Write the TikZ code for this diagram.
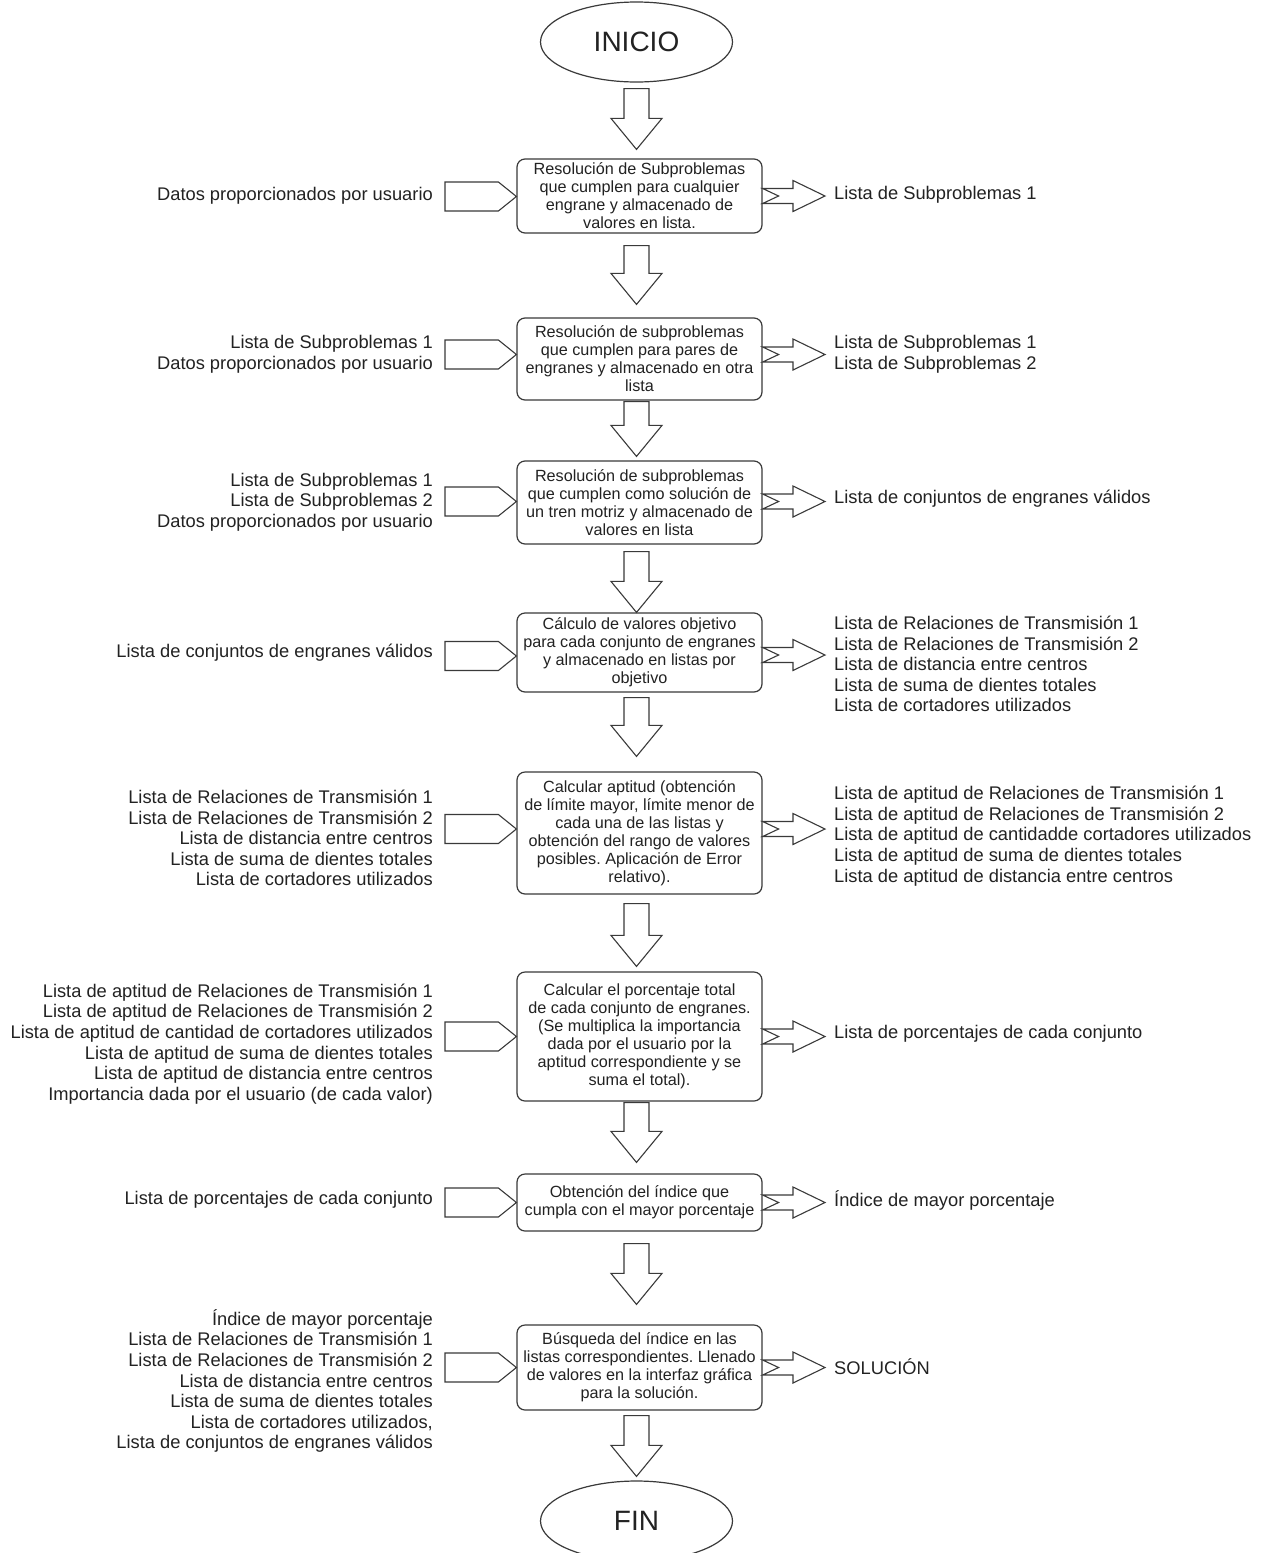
\documentclass[tikz,border=0pt]{standalone}
\usepackage{fontspec}
\setmainfont{Liberation Sans}
\usetikzlibrary{calc,shapes.geometric}
\definecolor{ink}{HTML}{222222}
\definecolor{edge}{HTML}{3a3a3a}
\frenchspacing

% left input arrow: pentagon from the text block (#2) to the west side of box #3
\newcommand\feedin[3][0]{%
  \draw[blk] let \p1=($(#3.west)+(0,#1)$), \p2=(#2.east) in
    (\x1,\y1) -- (\x1-18,\y1+14.5) -- (\x2+12,\y1+14.5) -- (\x2+12,\y1-14.5)
    -- (\x1-18,\y1-14.5) -- cycle;}
% right output arrow: notched block arrow from box #2 to the text block #3
\newcommand\feedout[3][0]{%
  \draw[blk] let \p1=($(#2.east)+(0,#1)$), \p2=(#3.west) in
    (\x1,\y1+7.5) -- (\x2-41,\y1+7.5) -- (\x2-41,\y1+15.5) -- (\x2-9,\y1)
    -- (\x2-41,\y1-15.5) -- (\x2-41,\y1-7.5) -- (\x1,\y1-7.5) -- (\x1+16,\y1) -- cycle;}
% downward block arrow from #2 to #3, gaps #4 (below source) and #5 (above target)
\newcommand\drop[5][-3]{%
  \draw[blk] let \p1=($(#2.south)+(#1,#4)$), \p2=($(#3.north)+(0,-#5)$) in
    (\x1-12.5,\y1) -- (\x1+12.5,\y1) -- (\x1+12.5,\y2+31) -- (\x1+25.5,\y2+31)
    -- (\x1,\y2) -- (\x1-25.5,\y2+31) -- (\x1-12.5,\y2+31) -- cycle;}

\begin{document}
\begin{tikzpicture}[x=1pt,y=-1pt,
  every node/.style={text=ink},
  procbox/.style={draw=edge, line width=1.2pt, rounded corners=8pt,
    minimum width=245pt, align=center, inner sep=2pt,
    font=\fontsize{16.2}{18}\selectfont},
  terminal/.style={draw=edge, line width=1.2pt, ellipse, minimum width=192pt,
    minimum height=80pt, inner sep=0pt, font=\fontsize{28}{30}\selectfont},
  intxt/.style={align=right, inner sep=0pt, anchor=east,
    font=\fontsize{18.3}{20.6}\selectfont},
  outtxt/.style={align=left, inner sep=0pt, anchor=west,
    font=\fontsize{18.3}{20.6}\selectfont},
  blk/.style={draw=edge, line width=1.1pt, fill=white, line join=miter}]

\fill[white] (0,0) rectangle (1261,1553);
\useasboundingbox (0,0) rectangle (1261,1553);

% terminals
\node[terminal] (ini) at (636.5,42) {INICIO};
\node[terminal] (fin) at (636.5,1521) {FIN};

% process boxes
\node[procbox, minimum height=74pt] (b1) at (639.5,196)
  {Resolución de Subproblemas\\que cumplen para cualquier\\engrane y almacenado de\\valores en lista.};
\node[procbox, minimum height=82pt] (b2) at (639.5,359)
  {Resolución de subproblemas\\que cumplen para pares de\\engranes y almacenado en otra\\lista};
\node[procbox, minimum height=83pt] (b3) at (639.5,502.5)
  {Resolución de subproblemas\\que cumplen como solución de\\un tren motriz y almacenado de\\valores en lista};
\node[procbox, minimum height=79pt] (b4) at (639.5,652.5)
  {Cálculo de valores objetivo\\para cada conjunto de engranes\\y almacenado en listas por\\objetivo};
\node[procbox, minimum height=122pt] (b5) at (639.5,833)
  {Calcular aptitud (obtención\\de límite mayor, límite menor de\\cada una de las listas y\\obtención del rango de valores\\posibles. Aplicación de Error\\relativo).};
\node[procbox, minimum height=129pt] (b6) at (639.5,1036.5)
  {Calcular el porcentaje total\\de cada conjunto de engranes.\\(Se multiplica la importancia\\dada por el usuario por la\\aptitud correspondiente y se\\suma el total).};
\node[procbox, minimum height=57pt] (b7) at (639.5,1202.5)
  {Obtención del índice que\\cumpla con el mayor porcentaje};
\node[procbox, minimum height=85pt] (b8) at (639.5,1367.5)
  {Búsqueda del índice en las\\listas correspondientes. Llenado\\de valores en la interfaz gráfica\\para la solución.};

% inputs (left)
\node[intxt] (i1) at (433,196) {Datos proporcionados por usuario};
\node[intxt] (i2) at (433,354) {Lista de Subproblemas 1\\Datos proporcionados por usuario};
\node[intxt] (i3) at (433,502) {Lista de Subproblemas 1\\Lista de Subproblemas 2\\Datos proporcionados por usuario};
\node[intxt] (i4) at (433,653) {Lista de conjuntos de engranes válidos};
\node[intxt] (i5) at (433,838) {Lista de Relaciones de Transmisión 1\\Lista de Relaciones de Transmisión 2\\Lista de distancia entre centros\\Lista de suma de dientes totales\\Lista de cortadores utilizados};
\node[intxt] (i6) at (433,1044) {Lista de aptitud de Relaciones de Transmisión 1\\Lista de aptitud de Relaciones de Transmisión 2\\Lista de aptitud de cantidad de cortadores utilizados\\Lista de aptitud de suma de dientes totales\\Lista de aptitud de distancia entre centros\\Importancia dada por el usuario (de cada valor)};
\node[intxt] (i7) at (433,1200) {Lista de porcentajes de cada conjunto};
\node[intxt] (i8) at (433,1381) {Índice de mayor porcentaje\\Lista de Relaciones de Transmisión 1\\Lista de Relaciones de Transmisión 2\\Lista de distancia entre centros\\Lista de suma de dientes totales\\Lista de cortadores utilizados,\\Lista de conjuntos de engranes válidos};

% outputs (right)
\node[outtxt] (o1) at (834,195) {Lista de Subproblemas 1};
\node[outtxt] (o2) at (834,354) {Lista de Subproblemas 1\\Lista de Subproblemas 2};
\node[outtxt] (o3) at (834,499) {Lista de conjuntos de engranes válidos};
\node[outtxt] (o4) at (834,664) {Lista de Relaciones de Transmisión 1\\Lista de Relaciones de Transmisión 2\\Lista de distancia entre centros\\Lista de suma de dientes totales\\Lista de cortadores utilizados};
\node[outtxt] (o5) at (834,836) {Lista de aptitud de Relaciones de Transmisión 1\\Lista de aptitud de Relaciones de Transmisión 2\\Lista de aptitud de cantidadde cortadores utilizados\\Lista de aptitud de suma de dientes totales\\Lista de aptitud de distancia entre centros};
\node[outtxt] (o6) at (834,1034) {Lista de porcentajes de cada conjunto};
\node[outtxt] (o7) at (834,1200) {Índice de mayor porcentaje};
\node[outtxt] (o8) at (834,1367) {SOLUCIÓN};

% main flow
\drop[0]{ini}{b1}{6}{9}
\drop{b1}{b2}{12}{13}
\drop{b2}{b3}{1}{4}
\drop{b3}{b4}{7}{0}
\drop{b4}{b5}{5}{15}
\drop{b5}{b6}{9}{5}
\drop{b6}{b7}{1}{11}
\drop{b7}{b8}{12}{20}
\drop{b8}{fin}{5}{4}

% data in
\feedin[0.5]{i1}{b1}
\feedin[-4.5]{i2}{b2}
\feedin[-1]{i3}{b3}
\feedin[3.5]{i4}{b4}
\feedin[-4]{i5}{b5}
\feedin{i6}{b6}
\feedin{i7}{b7}
\feedin{i8}{b8}

% data out
\feedout{b1}{o1}
\feedout[-4.5]{b2}{o2}
\feedout[-1]{b3}{o3}
\feedout[2.5]{b4}{o4}
\feedout[-4]{b5}{o5}
\feedout{b6}{o6}
\feedout{b7}{o7}
\feedout{b8}{o8}
\end{tikzpicture}
\end{document}
